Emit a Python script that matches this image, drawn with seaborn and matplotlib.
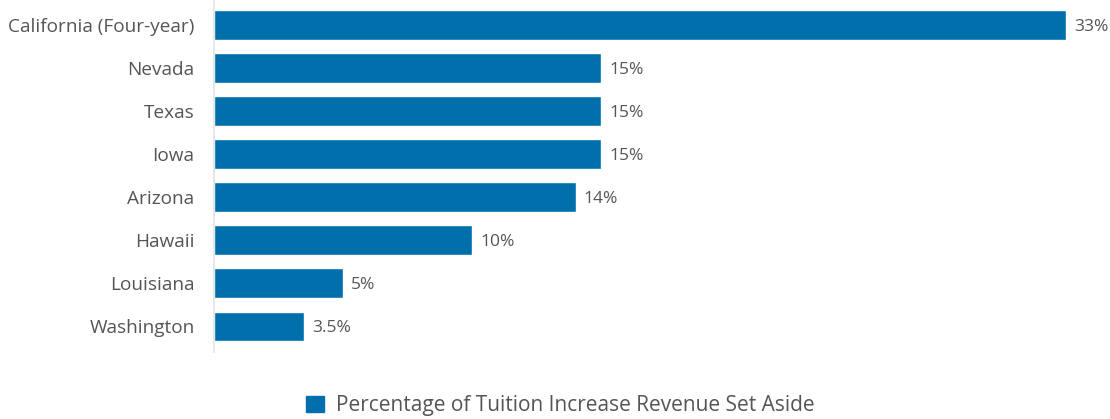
import matplotlib
matplotlib.use("Agg")
import matplotlib.pyplot as plt
import seaborn as sns
import pandas as pd
from matplotlib.patches import Patch

states = ["California (Four-year)", "Nevada", "Texas", "Iowa",
          "Arizona", "Hawaii", "Louisiana", "Washington"]
set_aside = [33, 15, 15, 15, 14, 10, 5, 3.5]
labels = ["33%", "15%", "15%", "15%", "14%", "10%", "5%", "3.5%"]
series_name = "Percentage of Tuition Increase Revenue Set Aside"

BAR_COLOR = "#006fab"
TEXT_COLOR = "#555555"

sns.set_style("white")
plt.rcParams["font.family"] = ["Open Sans", "DejaVu Sans"]

df = pd.DataFrame({"state": states, "pct": set_aside})

fig = plt.figure(figsize=(11.1, 4.19), dpi=100)
ax = fig.add_axes([0.1928, 0.16, 0.8072, 0.84])

sns.barplot(data=df, x="pct", y="state", color=BAR_COLOR, width=0.68,
            saturation=1, ax=ax)

for i, (v, lab) in enumerate(zip(set_aside, labels)):
    ax.text(v + 0.3, i, lab, va="center_baseline", ha="left", fontsize=12.5,
            color=TEXT_COLOR)

ax.set_xlim(0, 34.7)
ax.set_ylim(7.6, -0.58)
ax.set_xlabel("")
ax.set_ylabel("")
ax.set_xticks([])
ax.tick_params(axis="y", length=0, pad=14, labelsize=13.7, labelcolor=TEXT_COLOR)
for s in ["top", "right", "bottom"]:
    ax.spines[s].set_visible(False)
ax.spines["left"].set_color("#e3e3e3")
ax.spines["left"].set_linewidth(1.2)

fig.legend(handles=[Patch(color=BAR_COLOR, label=series_name)],
           loc="center", bbox_to_anchor=(0.505, 0.032), frameon=False,
           fontsize=15, handlelength=0.85, handleheight=0.85, handletextpad=0.6,
           labelcolor=TEXT_COLOR)

fig.savefig("out.png", dpi=100)
